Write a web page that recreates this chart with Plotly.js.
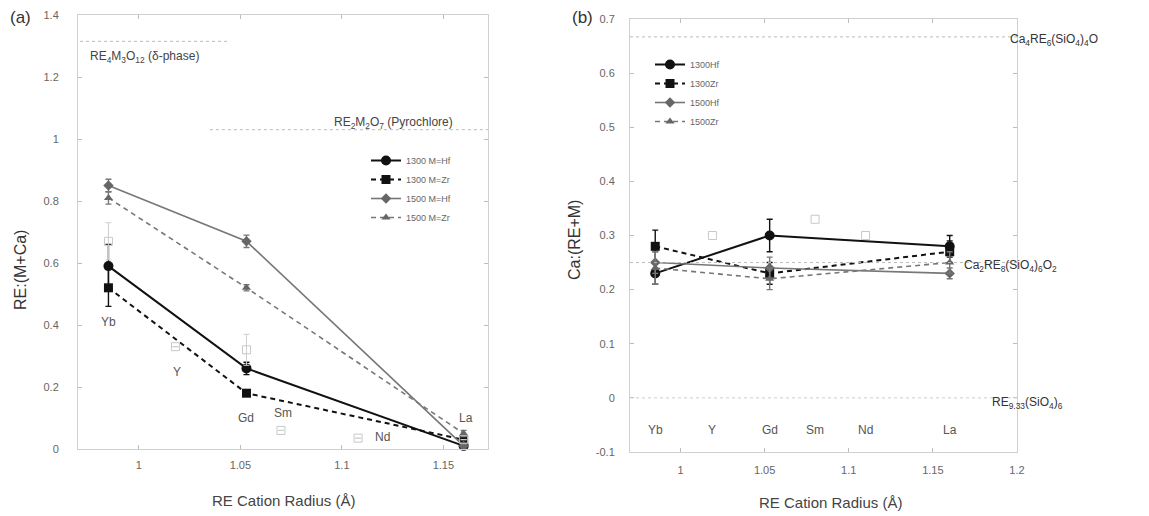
<!DOCTYPE html>
<html><head><meta charset="utf-8">
<script src="https://cdn.plot.ly/plotly-3.0.1.min.js"></script>
<style>html,body{margin:0;padding:0;background:#fff}#chart{width:1149px;height:516px}</style>
</head><body><div id="chart"></div>
<script>
// ---- data ----
const elements = ['Yb', 'Y', 'Gd', 'Sm', 'Nd', 'La'];
const radiusB = [0.985, 1.019, 1.053, 1.080, 1.110, 1.160];
const measuredRadius = [0.985, 1.053, 1.160];            // Yb, Gd, La
const openRadiusA = [0.985, 1.018, 1.053, 1.070, 1.108, 1.160];

// panel (a): RE:(M+Ca)
const a1300Hf = [0.59, 0.26, 0.01];  const a1300HfErr = [0.07, 0.02, 0.01];
const a1300Zr = [0.52, 0.18, 0.03];  const a1300ZrErr = [0.06, 0.01, 0.01];
const a1500Hf = [0.85, 0.67, 0.01];  const a1500HfErr = [0.02, 0.02, 0.01];
const a1500Zr = [0.81, 0.52, 0.05];  const a1500ZrErr = [0.02, 0.01, 0.01];
const aOpen = [0.67, 0.33, 0.32, 0.06, 0.035, 0.03];
const aOpenErr = [0.06, 0, 0.05, 0, 0, 0];

// panel (b): Ca:(RE+M)
const b1300Hf = [0.23, 0.30, 0.28];  const b1300HfErr = [0.02, 0.03, 0.02];
const b1300Zr = [0.28, 0.23, 0.27];  const b1300ZrErr = [0.03, 0.02, 0.02];
const b1500Hf = [0.25, 0.24, 0.23];  const b1500HfErr = [0.02, 0.02, 0.01];
const b1500Zr = [0.24, 0.22, 0.25];  const b1500ZrErr = [0.03, 0.02, 0.02];
const bOpenRadius = [1.019, 1.080, 1.110];
const bOpen = [0.30, 0.33, 0.30];

const namesA = ['1300 M=Hf', '1300 M=Zr', '1500 M=Hf', '1500 M=Zr'];
const namesB = ['1300Hf', '1300Zr', '1500Hf', '1500Zr'];

const xTicksA = [1, 1.05, 1.1, 1.15];
const xTicksB = [1, 1.05, 1.1, 1.15, 1.2];
const yTicksA = [0, 0.2, 0.4, 0.6, 0.8, 1, 1.2, 1.4];
const yTicksB = [-0.1, 0, 0.1, 0.2, 0.3, 0.4, 0.5, 0.6, 0.7];

// ---- styles ----
const styles = [
  {line: {color: '#111', width: 2, dash: 'solid'}, marker: {symbol: 'circle', size: 10, color: '#111'}},
  {line: {color: '#111', width: 2, dash: '5px,4px'}, marker: {symbol: 'square', size: 9, color: '#111'}},
  {line: {color: '#777', width: 1.6, dash: 'solid'}, marker: {symbol: 'diamond', size: 8, color: '#666'}},
  {line: {color: '#777', width: 1.6, dash: '5px,4px'}, marker: {symbol: 'triangle-up', size: 8, color: '#666'}}
];

function series(y, err, i, name, xa, ya, legend) {
  return {
    x: measuredRadius, y: y, type: 'scatter', mode: 'lines+markers', name: name,
    xaxis: xa, yaxis: ya, legend: legend,
    line: styles[i].line, marker: styles[i].marker,
    error_y: {type: 'data', array: err, visible: true, color: styles[i].line.color, thickness: 1.4, width: 3},
    cliponaxis: false
  };
}

const traces = [
  series(a1300Hf, a1300HfErr, 0, namesA[0], 'x', 'y', 'legend'),
  series(a1300Zr, a1300ZrErr, 1, namesA[1], 'x', 'y', 'legend'),
  series(a1500Hf, a1500HfErr, 2, namesA[2], 'x', 'y', 'legend'),
  series(a1500Zr, a1500ZrErr, 3, namesA[3], 'x', 'y', 'legend'),
  {x: openRadiusA, y: aOpen, type: 'scatter', mode: 'markers', xaxis: 'x', yaxis: 'y', showlegend: false,
   marker: {symbol: 'square-open', size: 8, color: '#c8c8c8', line: {width: 1}},
   error_y: {type: 'data', array: aOpenErr, visible: true, color: '#cfcfcf', thickness: 1, width: 3}},
  series(b1300Hf, b1300HfErr, 0, namesB[0], 'x2', 'y2', 'legend2'),
  series(b1300Zr, b1300ZrErr, 1, namesB[1], 'x2', 'y2', 'legend2'),
  series(b1500Hf, b1500HfErr, 2, namesB[2], 'x2', 'y2', 'legend2'),
  series(b1500Zr, b1500ZrErr, 3, namesB[3], 'x2', 'y2', 'legend2'),
  {x: bOpenRadius, y: bOpen, type: 'scatter', mode: 'markers', xaxis: 'x2', yaxis: 'y2', showlegend: false,
   marker: {symbol: 'square-open', size: 8, color: '#c8c8c8', line: {width: 1}}}
];

const W = 1149, H = 516;
const px = v => v / W, py = v => 1 - v / H;

const axisBase = {
  showline: true, linecolor: '#d0d0d0', linewidth: 1, mirror: 'ticks',
  ticks: 'inside', ticklen: 4, tickcolor: '#bdbdbd', showgrid: false, zeroline: false,
  tickfont: {family: 'Liberation Sans, Arial, sans-serif', size: 11, color: '#666'}
};

const fmt = v => String(v);

const layout = {
  width: W, height: H, margin: {l: 0, r: 0, t: 0, b: 0},
  paper_bgcolor: '#fff', plot_bgcolor: '#fff',
  font: {family: 'Liberation Sans, Arial, sans-serif', color: '#555'},
  xaxis: Object.assign({}, axisBase, {domain: [px(78), px(488)], range: [0.97, 1.172], anchor: 'y',
    tickvals: xTicksA, ticktext: xTicksA.map(fmt), ticklabelstandoff: 6}),
  yaxis: Object.assign({}, axisBase, {domain: [1 - 449 / H, 1 - 15 / H], range: [0, 1.4], anchor: 'x',
    tickvals: yTicksA, ticktext: yTicksA.map(fmt), ticklabelstandoff: 16}),
  xaxis2: Object.assign({}, axisBase, {domain: [px(630), px(1017)], range: [0.97, 1.2], anchor: 'y2',
    tickvals: xTicksB, ticktext: xTicksB.map(fmt), ticklabelstandoff: 8}),
  yaxis2: Object.assign({}, axisBase, {domain: [1 - 452 / H, 1 - 19 / H], range: [-0.1, 0.7], anchor: 'x2',
    tickvals: yTicksB, ticktext: yTicksB.map(fmt), ticklabelstandoff: 12}),
  legend: {x: px(366), y: py(146), xanchor: 'left', yanchor: 'top', bgcolor: 'rgba(0,0,0,0)',
    font: {size: 9, color: '#666'}, tracegroupgap: 0, itemwidth: 30},
  legend2: {x: px(650), y: py(50), xanchor: 'left', yanchor: 'top', bgcolor: 'rgba(0,0,0,0)',
    font: {size: 9, color: '#666'}, tracegroupgap: 0, itemwidth: 30},
  shapes: [
    {type: 'line', xref: 'x', yref: 'y', x0: 0.971, x1: 1.045, y0: 1.315, y1: 1.315, line: {color: '#bbb', width: 1, dash: 'dot'}},
    {type: 'line', xref: 'x', yref: 'y', x0: 1.035, x1: 1.172, y0: 1.03, y1: 1.03, line: {color: '#bbb', width: 1, dash: 'dot'}},
    {type: 'line', xref: 'x2', yref: 'y2', x0: 0.97, x1: 1.2, y0: 0.667, y1: 0.667, line: {color: '#bbb', width: 1, dash: 'dot'}},
    {type: 'line', xref: 'x2', yref: 'y2', x0: 0.97, x1: 1.2, y0: 0.25, y1: 0.25, line: {color: '#bbb', width: 1, dash: 'dot'}},
    {type: 'line', xref: 'x2', yref: 'y2', x0: 0.97, x1: 1.2, y0: 0, y1: 0, line: {color: '#ccc', width: 1, dash: 'dot'}}
  ],
  annotations: []
};

const ann = layout.annotations;
const labFont = {family: 'Liberation Sans, Arial, sans-serif', size: 12, color: '#555'};
function paperText(text, x, y, opts) {
  ann.push(Object.assign({text: text, xref: 'paper', yref: 'paper', x: px(x), y: py(y),
    xanchor: 'center', yanchor: 'middle', showarrow: false}, opts));
}
// panel labels
paperText('(a)', 20, 18, {font: {size: 17, color: '#333'}});
paperText('(b)', 582, 18, {font: {size: 17, color: '#333'}});
// axis titles
paperText('RE:(M+Ca)', 20, 270, {textangle: -90, font: {size: 16, color: '#333'}});
paperText('RE Cation Radius (Å)', 283, 500, {font: {size: 15, color: '#444'}});
paperText('Ca:(RE+M)', 575, 240, {textangle: -90, font: {size: 16, color: '#333'}});
paperText('RE Cation Radius (Å)', 830, 502, {font: {size: 15, color: '#444'}});
// phase labels
paperText('RE<sub>4</sub>M<sub>3</sub>O<sub>12</sub> (δ-phase)', 88, 57, {xanchor: 'left', font: {size: 12, color: '#444'}});
paperText('RE<sub>2</sub>M<sub>2</sub>O<sub>7</sub> (Pyrochlore)', 332, 123, {xanchor: 'left', font: {size: 12, color: '#444'}});
paperText('Ca<sub>4</sub>RE<sub>6</sub>(SiO<sub>4</sub>)<sub>4</sub>O', 1008, 40, {xanchor: 'left', font: {size: 12, color: '#333'}});
paperText('Ca<sub>2</sub>RE<sub>8</sub>(SiO<sub>4</sub>)<sub>6</sub>O<sub>2</sub>', 962, 266, {xanchor: 'left', font: {size: 12, color: '#333'}});
paperText('RE<sub>9.33</sub>(SiO<sub>4</sub>)<sub>6</sub>', 990, 403, {xanchor: 'left', font: {size: 12, color: '#333'}});
// element labels panel a
const elA = [[0.985, 0.41], [1.019, 0.25], [1.053, 0.10], [1.071, 0.115], [1.120, 0.04], [1.161, 0.10]];
elements.forEach((e, i) => ann.push({text: e, xref: 'x', yref: 'y', x: elA[i][0], y: elA[i][1], showarrow: false, font: labFont}));
// element labels panel b
elements.forEach((e, i) => ann.push({text: e, xref: 'x2', yref: 'y2', x: radiusB[i], y: -0.06, showarrow: false, font: labFont}));

Plotly.newPlot('chart', traces, layout, {displayModeBar: false, staticPlot: true});
</script></body></html>
